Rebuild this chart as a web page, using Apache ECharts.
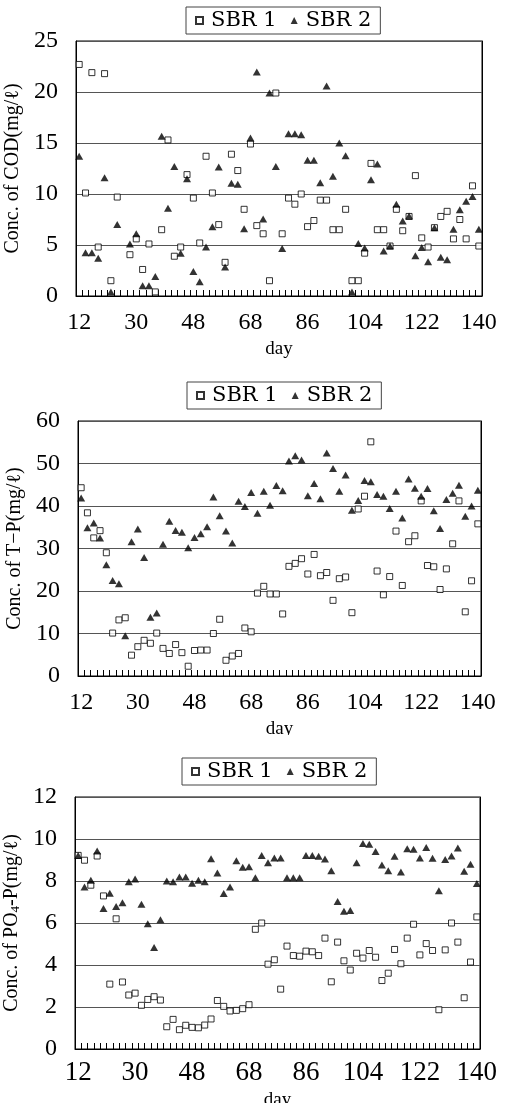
<!DOCTYPE html>
<html>
<head>
<meta charset="utf-8">
<script src="https://cdn.jsdelivr.net/npm/echarts@6/dist/echarts.min.js"></script>
<style>
html, body { margin: 0; padding: 0; background: #fff; }
#wrap { position: relative; width: 505px; height: 1103px; overflow: hidden; }
.box { position: absolute; left: 0; width: 505px; }
#cod { top: 0; height: 365px; }
#tp { top: 365px; height: 370px; }
#po { top: 735px; height: 368px; }
</style>
</head>
<body>
<div id="wrap">
  <div class="box" id="cod"></div>
  <div class="box" id="tp"></div>
  <div class="box" id="po"></div>
</div>
<script>
// 运行天数 (64 个取样点)
var days = [12, 14, 16, 18, 20, 22, 24, 26, 28, 30, 32, 34, 36, 38, 40, 42, 44, 46, 48,
  50, 52, 54, 56, 58, 60, 62, 64, 68,
  70, 72, 74, 76, 78, 80, 82, 84, 86, 88, 90, 92, 94, 96, 98, 100, 102, 104, 106, 108,
  110, 112, 114, 116, 118, 120, 122, 124, 126, 128, 130, 132, 134, 136, 138, 140];

// COD
var codSbr1 = [22.7, 10.1, 21.9, 4.8, 21.8, 1.5, 9.7, '-', 4.05, 5.6, 2.6, 5.1, 0.4, 6.5, 15.3, 3.9,
  4.8, 11.9, 9.6, 5.2, 13.7, 10.1, 7.0, 3.3, 13.9, 12.3, 8.5, 14.9, 6.9, 6.1, 1.5, 19.9,
  6.1, 9.6, 9.0, 10.0, 6.8, 7.4, 9.4, 9.4, 6.5, 6.5, 8.5, 1.5, 1.5, 4.2, 13.0, 6.5,
  6.5, 4.9, 8.5, 6.4, 7.8, 11.8, 5.7, 4.8, 6.7, 7.8, 8.3, 5.6, 7.5, 5.6, 10.8, 4.9];
var codSbr2 = [13.7, 4.25, 4.25, 3.7, 11.6, 0.4, 7.0, '-', 5.1, 6.1, 1.0, 1.0, 1.9, 15.65, 8.6, 12.7,
  4.2, 11.5, 2.4, 1.4, 4.8, 6.8, 12.65, 2.85, 11.05, 10.95, 6.6, 15.5, 21.95, 7.55, 19.9, 12.7,
  4.65, 15.9, 15.9, 15.8, 13.3, 13.3, 11.1, 20.6, 11.75, 15.0, 13.75, 0.4, 5.15, 4.7, 11.4, 12.95,
  4.4, 4.9, 9.0, 7.35, 7.85, 3.95, 4.75, 3.35, 6.7, 3.8, 3.55, 6.55, 8.45, 9.3, 9.75, 6.55];

// T-P
var tpSbr1 = [44.3, 38.4, 32.5, 34.2, 29.0, 10.1, 13.2, 13.7, 4.9, 6.9, 8.4, 7.7, 10.1, 6.5, 5.3, 7.4,
  5.5, 2.3, 6.0, 6.1, 6.1, 10.0, 13.35, 3.7, 4.7, 5.3, 11.3, 10.4, 19.5, 21.1, 19.3, 19.3,
  14.6, 25.8, 26.5, 27.6, 24.0, 28.6, 23.6, 24.35, 17.8, 22.9, 23.3, 14.9, 39.3, 42.3, 55.1, 24.7,
  19.1, 23.4, 34.1, 21.3, 31.6, 33.0, 41.2, 26.0, 25.7, 20.35, 25.2, 31.1, 41.2, 15.1, 22.4, 35.8];
var tpSbr2 = [41.9, 34.9, 36.0, 32.5, 26.2, 22.5, 21.7, 9.5, 31.6, 34.6, 27.9, 13.8, 14.8, 31.0, 36.4, 34.25,
  33.8, 30.2, 32.6, 33.5, 35.1, 42.1, 37.7, 34.1, 31.3, 41.1, 39.9, 43.2, 38.3, 43.5, 40.2, 44.8,
  43.6, 50.6, 51.8, 50.8, 42.4, 45.3, 41.7, 52.5, 48.8, 43.5, 47.3, 39.0, 41.3, 46.0, 45.7, 42.7,
  42.3, 39.4, 43.5, 37.2, 46.35, 44.2, 42.3, 44.1, 38.9, 34.7, 41.55, 43.0, 44.9, 37.6, 40.0, 43.7];

// PO4-P
var poSbr1 = [9.22, 8.99, 7.8, 9.19, 7.29, 3.09, 6.2, 3.19, 2.57, 2.66, 2.08, 2.36, 2.49, 2.33, 1.06, 1.41,
  0.92, 1.13, 1.03, 1.01, 1.14, 1.43, 2.31, 2.03, 1.81, 1.84, 1.92, 2.11, 5.7, 6.0, 4.04, 4.25,
  2.85, 4.9, 4.45, 4.42, 4.66, 4.63, 4.45, 5.28, 3.2, 5.09, 4.2, 3.76, 4.56, 4.33, 4.69, 4.37,
  3.26, 3.61, 4.74, 4.06, 5.28, 5.94, 4.48, 5.02, 4.69, 1.87, 4.72, 6.0, 5.09, 2.44, 4.14, 6.29];
var poSbr2 = [9.22, 7.72, 8.03, 9.43, 6.69, 7.42, 6.78, 6.96, 7.96, 8.1, 6.89, 5.97, 4.83, 6.15, 8.0, 7.96,
  8.19, 8.19, 7.89, 8.03, 7.96, 9.06, 8.38, 7.4, 7.72, 8.97, 8.65, 8.68, 8.16, 9.22, 8.87, 9.1,
  9.1, 8.16, 8.16, 8.16, 9.22, 9.22, 9.18, 9.05, 8.49, 7.02, 6.56, 6.59, 8.87, 9.79, 9.75, 9.41,
  8.76, 8.49, 9.18, 8.43, 9.54, 9.51, 9.1, 9.59, 9.08, 7.53, 9.02, 9.19, 9.57, 8.46, 8.8, 7.88];

var serif = 'Liberation Serif';

// 画一个图
function drawPanel(el, p) {
  var chart = echarts.init(document.getElementById(el));
  var option = {
    animation: false,
    backgroundColor: '#fff',
    legend: {
      left: p.lgLeft, top: p.lgTop,
      data: ['SBR 1', 'SBR 2'],
      selectedMode: false,
      itemWidth: 7, itemHeight: 7, itemGap: 14,
      borderColor: '#444', borderWidth: 1, padding: [3, 9, 3, 9],
      textStyle: {fontFamily: 'DejaVu Serif', fontSize: 21, color: '#000', padding: [0, 0, 0, 3]}
    },
    grid: {
      left: p.left, right: p.right, top: p.top, height: p.height,
      containLabel: false, outerBoundsMode: 'none',
      show: true, borderColor: '#000', borderWidth: 1, backgroundColor: 'transparent'
    },
    xAxis: {
      type: 'category', data: days, boundaryGap: true,
      name: 'day', nameLocation: 'middle', nameGap: p.dayGap,
      nameTextStyle: {fontFamily: serif, fontSize: 19, color: '#000'},
      axisLine: {onZero: false, lineStyle: {color: '#000', width: 1}},
      axisTick: {show: true, inside: true, interval: 0, length: 6, lineStyle: {color: '#000', width: 1}},
      axisLabel: {interval: 8, margin: p.lbMargin, fontFamily: serif, fontSize: p.lbSize, color: '#000'},
      splitLine: {show: false}
    },
    yAxis: [{
      type: 'value', min: 0, max: p.yMax, interval: p.yStep,
      name: p.yName, nameLocation: 'middle', nameGap: 37,
      nameTextStyle: {fontFamily: serif, fontSize: 20, color: '#000',
        rich: {sub: {fontFamily: serif, fontSize: 13, color: '#000', verticalAlign: 'bottom', padding: [7, 0, 0, 0]}}},
      axisLine: {show: true, lineStyle: {color: '#000'}},
      axisTick: {show: false},
      axisLabel: {margin: 18, fontFamily: serif, fontSize: 24, color: '#000'},
      splitLine: {lineStyle: {color: '#555', width: 1}}
    }, {
      // 右侧边框
      type: 'value', position: 'right', min: 0, max: p.yMax, interval: p.yStep,
      axisLine: {show: true, onZero: false, lineStyle: {color: '#000'}},
      axisTick: {show: false}, axisLabel: {show: false}, splitLine: {show: false}
    }],
    series: [{
      name: 'SBR 1', type: 'scatter', data: p.s1,
      symbol: 'rect', symbolSize: 6,
      itemStyle: {color: '#fff', borderColor: '#000', borderWidth: 1}
    }, {
      name: 'SBR 2', type: 'scatter', data: p.s2,
      symbol: 'triangle', symbolSize: [8, 7],
      itemStyle: {color: '#000'}
    }]
  };
  chart.setOption(option);
}

// COD
drawPanel('cod', {top: 41, left: 76, right: 23, height: 255, lgLeft: 186, lgTop: 7,
  yName: 'Conc. of COD(mg/ℓ)', yMax: 25, yStep: 5, s1: codSbr1, s2: codSbr2,
  lbMargin: 15, lbSize: 24, dayGap: 39});
// T-P
drawPanel('tp', {top: 56, left: 78, right: 24, height: 255, lgLeft: 187, lgTop: 17,
  yName: 'Conc. of T−P(mg/ℓ)', yMax: 60, yStep: 10, s1: tpSbr1, s2: tpSbr2,
  lbMargin: 15, lbSize: 24, dayGap: 39});
// PO4-P
drawPanel('po', {top: 62, left: 75, right: 25, height: 252, lgLeft: 182, lgTop: 23,
  yName: 'Conc. of PO{sub|4}-P(mg/ℓ)', yMax: 12, yStep: 2, s1: poSbr1, s2: poSbr2,
  lbMargin: 10, lbSize: 27, dayGap: 37});
</script>
</body>
</html>
